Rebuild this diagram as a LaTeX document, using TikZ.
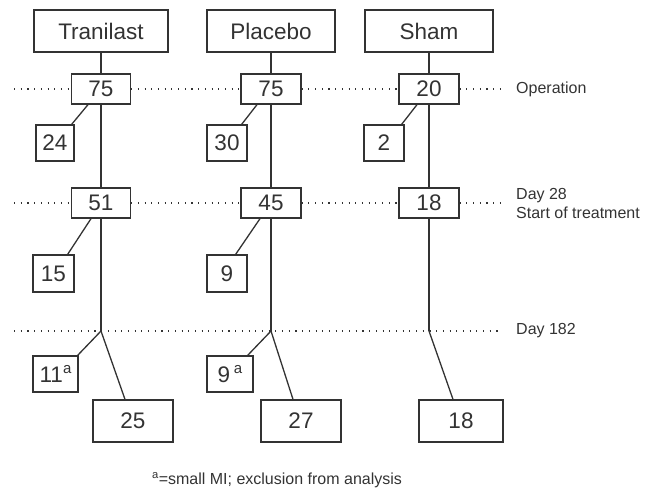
\documentclass[tikz,border=0pt]{standalone}
\usepackage{fontspec}
\setmainfont{Liberation Sans}
\definecolor{ink}{HTML}{333333}
\newcommand{\supa}{\raisebox{0.42em}{\fontsize{15}{15}\selectfont a}}
\begin{document}
\begin{tikzpicture}[x=1pt,y=-1pt,
  box/.style={draw=ink,line width=1.3pt,inner sep=0pt,text=ink,font=\fontsize{22.5}{26}\selectfont},
  conn/.style={draw=ink,line width=1.3pt},
  dotline/.style={draw=ink,line width=1.1pt,dash pattern=on 1.1pt off 5.6pt},
  lbl/.style={text=ink,font=\fontsize{16}{19}\selectfont,anchor=west,inner sep=0pt,align=left}]
\useasboundingbox (0,0) rectangle (655,492);
% group boxes
\node[box,minimum width=134,minimum height=42] (g1) at (101,31) {Tranilast};
\node[box,minimum width=128,minimum height=42] (g2) at (271,31) {Placebo};
\node[box,minimum width=128,minimum height=42] (g3) at (429,31) {Sham};
% operation row
\node[box,minimum width=59,minimum height=30] (o1) at (101,89) {75};
\node[box,minimum width=60,minimum height=30] (o2) at (271,89) {75};
\node[box,minimum width=60,minimum height=30] (o3) at (429,89) {20};
% losses after operation
\node[box,minimum width=38,minimum height=36] (s1) at (55,143) {24};
\node[box,minimum width=40,minimum height=36] (s2) at (227,143) {30};
\node[box,minimum width=40,minimum height=36] (s3) at (384,143) {2};
% day 28 row
\node[box,minimum width=59,minimum height=30] (d1) at (101,203) {51};
\node[box,minimum width=60,minimum height=30] (d2) at (271,203) {45};
\node[box,minimum width=60,minimum height=30] (d3) at (429,203) {18};
% losses after day 28
\node[box,minimum width=41,minimum height=37] (t1) at (53.5,273.5) {15};
\node[box,minimum width=40,minimum height=37] (t2) at (227,273.5) {9};
% day 182 branch points
\coordinate (b1) at (101,331);
\coordinate (b2) at (271,331);
\coordinate (b3) at (429,331);
\coordinate (dl) at (14,331);
\coordinate (dr) at (503,331);
% final boxes
\node[box,minimum width=45,minimum height=36] (e1) at (55.5,374) {11\supa};
\node[box,minimum width=46,minimum height=36] (e2) at (230,374) {9\,\supa};
\node[box,minimum width=80,minimum height=42] (f1) at (133,421) {25};
\node[box,minimum width=80,minimum height=42] (f2) at (301,421) {27};
\node[box,minimum width=84,minimum height=42] (f3) at (461,421) {18};
% dotted time lines
\coordinate (ol) at (14,89);
\coordinate (or) at (503,89);
\coordinate (ml) at (14,203);
\coordinate (mr) at (503,203);
\draw[dotline] (ol) -- (o1.west) (o1.east) -- (o2.west) (o2.east) -- (o3.west) (o3.east) -- (or);
\draw[dotline] (ml) -- (d1.west) (d1.east) -- (d2.west) (d2.east) -- (d3.west) (d3.east) -- (mr);
\draw[dotline] (dl) -- (b1) -- (b2) -- (b3) -- (dr);
% labels
\node[lbl] (la) at (516,89) {Operation};
\node[lbl] (lb) at (516,203) {Day 28\\Start of treatment};
\node[lbl] (lc) at (516,331) {Day 182};
% vertical connectors
\draw[conn] (g1.south) -- (o1.north) (o1.south) -- (d1.north) (d1.south) -- (b1);
\draw[conn] (g2.south) -- (o2.north) (o2.south) -- (d2.north) (d2.south) -- (b2);
\draw[conn] (g3.south) -- (o3.north) (o3.south) -- (d3.north) (d3.south) -- (b3);
% diagonal connectors
\draw[conn] ([xshift=-13]o1.south) -- ([xshift=-3]s1.north east);
\draw[conn] ([xshift=-14]o2.south) -- ([xshift=-6]s2.north east);
\draw[conn] ([xshift=-12]o3.south) -- ([xshift=-3]s3.north east);
\draw[conn] ([xshift=-10]d1.south) -- ([xshift=-7]t1.north east);
\draw[conn] ([xshift=-11]d2.south) -- ([xshift=-12]t2.north east);
\draw[conn] (b1) -- ([xshift=-1]e1.north east);
\draw[conn] (b2) -- ([xshift=-6]e2.north east);
\draw[conn] (b1) -- ([xshift=-8]f1.north);
\draw[conn] (b2) -- ([xshift=-8]f2.north);
\draw[conn] (b3) -- ([xshift=-8]f3.north);
% footnote
\node[text=ink,font=\fontsize{16}{19}\selectfont,inner sep=0pt] (fn) at (277,480) {\textsuperscript{a}=small MI; exclusion from analysis};
\end{tikzpicture}
\end{document}
